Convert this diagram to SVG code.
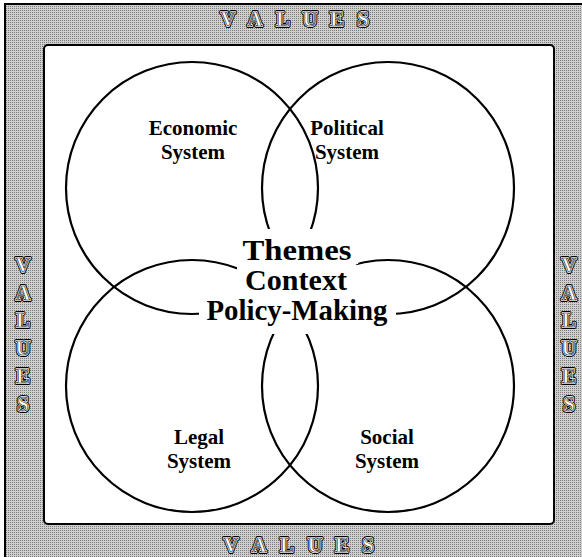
<svg xmlns="http://www.w3.org/2000/svg" width="582" height="557" viewBox="0 0 582 557">
<defs>
<pattern id="dither" width="2" height="2" patternUnits="userSpaceOnUse">
<rect width="2" height="2" fill="#cfcfcf"/>
<rect width="1" height="1" fill="#7c7c7c"/>
</pattern>
<style>
.circ{fill:none;stroke:#000;stroke-width:2.2}
.lbl{font-family:"Liberation Serif","Times New Roman",serif;font-weight:bold;font-size:21px;text-anchor:middle;fill:#000}
.ctr{font-family:"Liberation Serif","Times New Roman",serif;font-weight:bold;font-size:30px;text-anchor:middle;fill:#000}
.mask{fill:#fff;stroke:none}
.v1{font-family:"Liberation Serif","Times New Roman",serif;font-weight:bold;font-size:20px;text-anchor:middle;fill:#fff;stroke:#000;stroke-width:4px;stroke-linejoin:round}
.v2{font-family:"Liberation Serif","Times New Roman",serif;font-weight:bold;font-size:20px;text-anchor:middle;fill:#fff;stroke:#fff;stroke-width:2px;stroke-linejoin:round}
.v3{font-family:"Liberation Serif","Times New Roman",serif;font-weight:bold;font-size:20px;text-anchor:middle;fill:#fff;stroke:#000;stroke-width:0.6px}
</style>
</defs>
<g id="frame">
<rect x="5" y="4" width="577" height="553" fill="url(#dither)"/>
<path d="M5 557 V4 H582" fill="none" stroke="#000" stroke-width="2"/>
<rect x="44" y="45" width="510" height="479" rx="4" fill="#fff" stroke="#000" stroke-width="2"/>
</g>
<g id="values-top">
<text class="v1" x="228" y="26">V</text><text class="v2" x="228" y="26">V</text><text class="v3" x="228" y="26">V</text>
<text class="v1" x="255" y="26">A</text><text class="v2" x="255" y="26">A</text><text class="v3" x="255" y="26">A</text>
<text class="v1" x="283" y="26">L</text><text class="v2" x="283" y="26">L</text><text class="v3" x="283" y="26">L</text>
<text class="v1" x="310" y="26">U</text><text class="v2" x="310" y="26">U</text><text class="v3" x="310" y="26">U</text>
<text class="v1" x="337" y="26">E</text><text class="v2" x="337" y="26">E</text><text class="v3" x="337" y="26">E</text>
<text class="v1" x="363" y="26">S</text><text class="v2" x="363" y="26">S</text><text class="v3" x="363" y="26">S</text>
</g>
<g id="values-bottom">
<text class="v1" x="231" y="552">V</text><text class="v2" x="231" y="552">V</text><text class="v3" x="231" y="552">V</text>
<text class="v1" x="259" y="552">A</text><text class="v2" x="259" y="552">A</text><text class="v3" x="259" y="552">A</text>
<text class="v1" x="287" y="552">L</text><text class="v2" x="287" y="552">L</text><text class="v3" x="287" y="552">L</text>
<text class="v1" x="315" y="552">U</text><text class="v2" x="315" y="552">U</text><text class="v3" x="315" y="552">U</text>
<text class="v1" x="342" y="552">E</text><text class="v2" x="342" y="552">E</text><text class="v3" x="342" y="552">E</text>
<text class="v1" x="368" y="552">S</text><text class="v2" x="368" y="552">S</text><text class="v3" x="368" y="552">S</text>
</g>
<g id="values-left">
<text class="v1" x="23" y="272">V</text><text class="v2" x="23" y="272">V</text><text class="v3" x="23" y="272">V</text>
<text class="v1" x="23" y="300">A</text><text class="v2" x="23" y="300">A</text><text class="v3" x="23" y="300">A</text>
<text class="v1" x="23" y="327">L</text><text class="v2" x="23" y="327">L</text><text class="v3" x="23" y="327">L</text>
<text class="v1" x="23" y="355">U</text><text class="v2" x="23" y="355">U</text><text class="v3" x="23" y="355">U</text>
<text class="v1" x="23" y="383">E</text><text class="v2" x="23" y="383">E</text><text class="v3" x="23" y="383">E</text>
<text class="v1" x="23" y="411">S</text><text class="v2" x="23" y="411">S</text><text class="v3" x="23" y="411">S</text>
</g>
<g id="values-right">
<text class="v1" x="569" y="272">V</text><text class="v2" x="569" y="272">V</text><text class="v3" x="569" y="272">V</text>
<text class="v1" x="569" y="300">A</text><text class="v2" x="569" y="300">A</text><text class="v3" x="569" y="300">A</text>
<text class="v1" x="569" y="327">L</text><text class="v2" x="569" y="327">L</text><text class="v3" x="569" y="327">L</text>
<text class="v1" x="569" y="355">U</text><text class="v2" x="569" y="355">U</text><text class="v3" x="569" y="355">U</text>
<text class="v1" x="569" y="383">E</text><text class="v2" x="569" y="383">E</text><text class="v3" x="569" y="383">E</text>
<text class="v1" x="569" y="411">S</text><text class="v2" x="569" y="411">S</text><text class="v3" x="569" y="411">S</text>
</g>
<g id="economic">
<circle class="circ" cx="192" cy="188" r="126"/>
<text class="lbl" x="193" y="135">Economic</text>
<text class="lbl" x="193" y="159">System</text>
</g>
<g id="political">
<circle class="circ" cx="388" cy="188" r="126"/>
<text class="lbl" x="347" y="135">Political</text>
<text class="lbl" x="347" y="159">System</text>
</g>
<g id="legal">
<circle class="circ" cx="192" cy="386" r="126"/>
<text class="lbl" x="199" y="444">Legal</text>
<text class="lbl" x="199" y="468">System</text>
</g>
<g id="social">
<circle class="circ" cx="388" cy="386" r="126"/>
<text class="lbl" x="387" y="444">Social</text>
<text class="lbl" x="387" y="468">System</text>
</g>
<g id="center">
<rect class="mask" x="235" y="229" width="125" height="36" rx="6"/>
<rect class="mask" x="237" y="262" width="120" height="32" rx="6"/>
<rect class="mask" x="199" y="292" width="197" height="42" rx="8"/>
<text class="ctr" x="297" y="260" textLength="109" lengthAdjust="spacingAndGlyphs">Themes</text>
<text class="ctr" x="296" y="290" textLength="102" lengthAdjust="spacingAndGlyphs">Context</text>
<text class="ctr" x="297" y="320" textLength="181" lengthAdjust="spacingAndGlyphs">Policy-Making</text>
</g>
</svg>
